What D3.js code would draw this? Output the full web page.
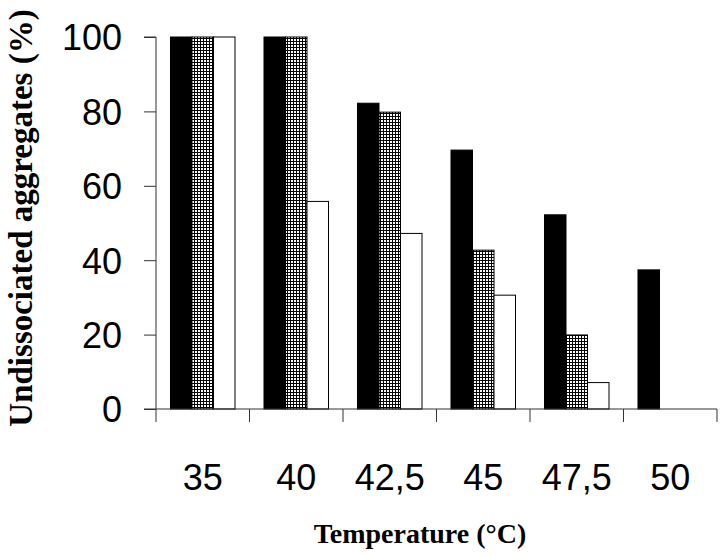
<!DOCTYPE html>
<html>
<head>
<meta charset="utf-8">
<script src="https://cdn.jsdelivr.net/npm/d3@7"></script>
<style>
  html, body { margin: 0; padding: 0; background: #fff; }
  svg { display: block; }
</style>
</head>
<body>
<svg id="chart" width="720" height="557"></svg>
<script>
// ---- data ----
const categories = ["35", "40", "42,5", "45", "47,5", "50"];
const seriesNames = ["black", "hatched", "white"];
const seriesBlack   = [100, 100, 82.2, 69.6, 52.2, 37.4];
const seriesHatched = [100, 100, 79.8, 42.7, 19.9, null];
const seriesWhite   = [100, 55.8, 47.2, 30.6, 7.1, null];
const yTicks = [0, 20, 40, 60, 80, 100];
const xTitle = "Temperature (°C)";
const yTitle = "Undissociated aggregates (%)";

const seriesValues = [seriesBlack, seriesHatched, seriesWhite];

const svg = d3.select("#chart");

// pattern for the hatched series
const defs = svg.append("defs");
const pat = defs.append("pattern")
  .attr("id", "grid")
  .attr("patternUnits", "userSpaceOnUse")
  .attr("width", 3).attr("height", 3);
pat.append("rect").attr("width", 3).attr("height", 3).attr("fill", "#fff");
pat.append("rect").attr("x", 2).attr("width", 1).attr("height", 3).attr("fill", "#000");
pat.append("rect").attr("y", 2).attr("width", 3).attr("height", 1).attr("fill", "#000");

const fills = { black: "#000", hatched: "url(#grid)", white: "#fff" };

const mLeft = 156, mRight = 717, mTop = 37, mBottom = 409;

const x0 = d3.scaleBand().domain(categories).range([mLeft, mRight]).padding(0);
const x1 = d3.scaleBand().domain(seriesNames).range([0, x0.bandwidth()])
  .paddingInner(0).paddingOuter(0.674);
const y = d3.scaleLinear().domain([0, 100]).range([mBottom, mTop]);

// bars
const rows = [];
categories.forEach((c, i) => {
  seriesNames.forEach((s, j) => {
    const v = seriesValues[j][i];
    if (v != null) rows.push({ c, s, v });
  });
});

svg.append("g").selectAll("rect")
  .data(rows)
  .join("rect")
  .attr("x", d => x0(d.c) + x1(d.s))
  .attr("y", d => y(d.v))
  .attr("width", x1.bandwidth())
  .attr("height", d => y(0) - y(d.v))
  .attr("fill", d => fills[d.s])
  .attr("stroke", "#000")
  .attr("stroke-width", 1);

// y axis
const yAxis = d3.axisLeft(y).tickValues(yTicks).tickSize(12).tickPadding(22).tickFormat(d3.format("d"));
const gy = svg.append("g").attr("transform", `translate(${mLeft},0)`).call(yAxis);
gy.select(".domain").attr("stroke", "#333").attr("d", `M-12,${mTop}H0V${mBottom}H-12`);
gy.selectAll(".tick line").attr("stroke", "#333");
gy.selectAll(".tick text")
  .attr("font-family", "Liberation Sans, Arial, sans-serif")
  .attr("font-size", 36)
  .attr("fill", "#000")
  .attr("dy", "0.36em");

// x axis: boundary ticks
const xAxisG = svg.append("g");
xAxisG.append("line")
  .attr("x1", mLeft).attr("x2", mRight)
  .attr("y1", mBottom).attr("y2", mBottom)
  .attr("stroke", "#333");
const bounds = categories.map(c => x0(c)).concat([x0(categories[categories.length - 1]) + x0.bandwidth()]);
xAxisG.selectAll("line.b")
  .data(bounds)
  .join("line")
  .attr("class", "b")
  .attr("x1", d => d).attr("x2", d => d)
  .attr("y1", mBottom).attr("y2", mBottom + 13)
  .attr("stroke", "#333");
xAxisG.selectAll("text")
  .data(categories)
  .join("text")
  .attr("x", d => x0(d) + x0.bandwidth() / 2)
  .attr("y", 490)
  .attr("text-anchor", "middle")
  .attr("font-family", "Liberation Sans, Arial, sans-serif")
  .attr("font-size", 36)
  .text(d => d);

// titles
svg.append("text")
  .attr("x", 420)
  .attr("y", 543)
  .attr("text-anchor", "middle")
  .attr("font-family", "Liberation Serif, Times New Roman, serif")
  .attr("font-weight", "bold")
  .attr("font-size", 28)
  .text(xTitle);

svg.append("text")
  .attr("transform", "translate(32,218) rotate(-90)")
  .attr("text-anchor", "middle")
  .attr("font-family", "Liberation Serif, Times New Roman, serif")
  .attr("font-weight", "bold")
  .attr("font-size", 33)
  .text(yTitle);
</script>
</body>
</html>
